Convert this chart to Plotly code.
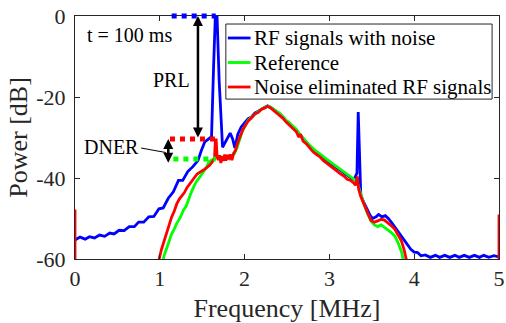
import plotly.graph_objects as go

# ---------------- data ----------------
blue_x = [0.00, 0.06, 0.12, 0.17, 0.23, 0.29, 0.35, 0.41, 0.46, 0.52, 0.58, 0.64, 0.70, 0.75, 0.81,
          0.87, 0.93, 0.99, 1.04, 1.10, 1.16, 1.22, 1.27, 1.33, 1.39, 1.45, 1.49, 1.53, 1.58, 1.61,
          1.635, 1.655, 1.675, 1.70, 1.74, 1.78, 1.83, 1.86, 1.885, 1.92, 1.96, 2.00, 2.04, 2.08, 2.12,
          2.16, 2.20, 2.24, 2.27, 2.30, 2.33, 2.37, 2.41, 2.45, 2.49, 2.53, 2.57, 2.61, 2.65, 2.69,
          2.73, 2.77, 2.81, 2.85, 2.89, 2.93, 2.97, 3.01, 3.05, 3.09, 3.13, 3.17, 3.21, 3.25, 3.29,
          3.31, 3.325, 3.34, 3.355, 3.37, 3.40, 3.44, 3.48, 3.51, 3.55, 3.58, 3.62, 3.66, 3.70, 3.74,
          3.78, 3.82, 3.86, 3.90, 3.93, 3.96, 4.00, 4.04, 4.08, 4.13, 4.19, 4.25, 4.30, 4.36, 4.42,
          4.48, 4.53, 4.59, 4.65, 4.71, 4.77, 4.82, 4.88, 4.94, 5.00]
blue_y = [-55.3, -54.6, -55.1, -54.5, -54.8, -54.1, -54.4, -53.6, -53.8, -52.9, -53.0, -52.0, -52.0, -50.9, -50.9,
          -49.6, -49.5, -47.6, -47.4, -45.0, -43.4, -40.6, -40.6, -38.4, -37.2, -35.7, -33.2, -31.1, -30.3, -29.8,
          -12.0, 0.0, 0.0, -16.0, -32.4, -31.0, -28.9, -30.4, -32.6, -29.2, -27.4, -26.4, -25.4, -24.9, -24.0,
          -23.5, -22.9, -22.5, -22.2, -22.5, -22.9, -23.6, -24.1, -24.9, -25.9, -26.5, -27.3, -28.1, -29.3, -30.3,
          -31.2, -32.2, -33.0, -33.7, -34.2, -35.1, -35.6, -36.3, -36.9, -37.5, -38.3, -38.8, -39.5, -39.9, -40.4,
          -39.3, -38.8, -23.7, -33.0, -44.2, -45.8, -47.4, -49.2, -50.0, -49.6, -49.0, -49.6, -49.3, -50.1, -51.2,
          -52.4, -53.4, -54.6, -56.0, -56.6, -57.6, -58.3, -58.4, -59.2, -59.0, -59.6, -59.1, -59.6, -59.1, -59.6,
          -59.1, -59.6, -59.1, -59.6, -59.1, -59.6, -59.1, -59.6, -59.2, -59.5]

green_x = [1.02, 1.05, 1.08, 1.11, 1.14, 1.17, 1.20, 1.24, 1.28, 1.31, 1.34, 1.37, 1.40, 1.43, 1.46,
           1.49, 1.52, 1.55, 1.58, 1.61, 1.64, 1.67, 1.70, 1.73, 1.76, 1.79, 1.82, 1.85, 1.88, 1.91,
           1.94, 1.97, 2.00, 2.04, 2.08, 2.12, 2.16, 2.20, 2.24, 2.27, 2.30, 2.33, 2.37, 2.41, 2.45,
           2.49, 2.53, 2.57, 2.61, 2.65, 2.69, 2.73, 2.77, 2.81, 2.85, 2.89, 2.93, 2.97, 3.01, 3.05,
           3.09, 3.13, 3.17, 3.21, 3.25, 3.29, 3.33, 3.37, 3.41, 3.45, 3.49, 3.53, 3.57, 3.61, 3.65,
           3.69, 3.73, 3.77, 3.81, 3.85, 3.88, 3.90]
green_y = [-62.0, -59.2, -57.4, -55.6, -53.8, -52.6, -51.2, -49.8, -47.9, -47.0, -45.2, -43.6, -42.2, -40.9, -40.1,
           -39.2, -38.6, -37.4, -36.0, -35.6, -35.1, -34.9, -35.2, -34.8, -35.4, -34.9, -35.3, -34.6, -34.0, -32.6,
           -30.4, -28.6, -27.4, -25.8, -25.0, -24.2, -23.6, -23.0, -22.6, -22.2, -22.4, -22.8, -23.5, -24.0, -24.8,
           -25.8, -26.4, -27.2, -28.0, -29.2, -30.2, -31.0, -32.0, -32.8, -33.5, -34.0, -34.9, -35.4, -36.0, -36.6,
           -37.2, -38.0, -38.5, -39.2, -39.6, -40.3, -41.2, -44.0, -46.6, -48.8, -50.6, -51.6, -52.0, -51.6, -52.2,
           -52.8, -53.5, -54.3, -56.0, -58.2, -60.6, -63.0]

red_x = [0.0, 0.003, 0.96, 0.99, 1.02, 1.05, 1.08, 1.11, 1.14, 1.17, 1.20, 1.23, 1.26, 1.29, 1.32,
         1.35, 1.38, 1.41, 1.44, 1.47, 1.50, 1.53, 1.56, 1.59, 1.62, 1.645, 1.655, 1.665, 1.675, 1.69,
         1.705, 1.72, 1.735, 1.75, 1.765, 1.78, 1.795, 1.81, 1.83, 1.85, 1.87, 1.89, 1.92, 1.95, 1.98,
         2.01, 2.04, 2.08, 2.12, 2.16, 2.20, 2.24, 2.27, 2.30, 2.33, 2.37, 2.41, 2.45, 2.49, 2.53,
         2.57, 2.61, 2.64, 2.66, 2.69, 2.73, 2.77, 2.81, 2.85, 2.89, 2.93, 2.97, 3.01, 3.05, 3.09,
         3.13, 3.17, 3.21, 3.25, 3.29, 3.31, 3.33, 3.345, 3.37, 3.41, 3.45, 3.49, 3.53, 3.57, 3.61,
         3.65, 3.69, 3.73, 3.77, 3.81, 3.85, 3.88, 3.91, 3.93, 3.95, 4.997, 5.0]
red_y = [-47.8, -160.0, -68.0, -60.2, -57.6, -55.6, -53.4, -51.4, -49.6, -48.2, -46.4, -45.2, -44.4, -43.6, -42.4,
         -41.6, -40.6, -40.0, -39.0, -38.6, -38.3, -37.8, -37.3, -36.8, -36.0, -35.2, -30.6, -30.6, -34.6, -35.6,
         -34.4, -36.3, -34.6, -35.8, -34.2, -35.7, -34.3, -35.4, -34.2, -35.6, -33.9, -33.3, -31.2, -29.4, -28.0,
         -27.0, -26.0, -25.2, -24.2, -23.8, -23.0, -22.7, -22.3, -22.6, -23.1, -23.8, -24.4, -25.2, -26.2, -26.9,
         -27.8, -28.6, -29.9, -29.2, -30.9, -31.6, -32.6, -33.6, -34.2, -34.8, -35.7, -36.3, -36.9, -37.6, -38.3,
         -39.0, -39.5, -40.3, -40.6, -41.3, -41.8, -39.6, -42.8, -44.6, -46.8, -48.6, -50.5, -50.9, -50.6, -50.2,
         -50.4, -51.0, -51.8, -52.6, -54.0, -55.6, -57.6, -60.4, -66.0, -160.0, -160.0, -49.0]

series_names = ["RF signals with noise", "Reference", "Noise eliminated RF signals"]
series_colors = ["#0000FF", "#00FF00", "#FF0000"]

x_tick_vals = [0, 1, 2, 3, 4, 5]
x_tick_text = ["0", "1", "2", "3", "4", "5"]
y_tick_vals = [0, -20, -40, -60]
y_tick_text = ["0", "-20", "-40", "-60"]

# annotation levels (dB) and frequencies (MHz)
peak_level = 0.0
red_level = -30.4
green_level = -35.3
blue_dot_span = [1.14, 1.66]
red_dot_span = [1.12, 1.65]
green_dot_span = [1.16, 1.66]
prl_x = 1.45
dner_x = 1.10
dner_bottom = -36.6

FONT = "Liberation Serif, Times New Roman, serif"
AX = "#262626"

fig = go.Figure()
for xs, ys, name, col in zip([blue_x, green_x, red_x], [blue_y, green_y, red_y], series_names, series_colors):
    fig.add_trace(go.Scatter(x=xs, y=ys, mode="lines", name=name,
                             line=dict(color=col, width=2.8), showlegend=False))

shapes = []
dot = dict(width=5, dash="5px,5px")
shapes.append(dict(type="line", xref="x", yref="paper", x0=blue_dot_span[0], x1=blue_dot_span[1],
                   y0=1, y1=1, line=dict(color="#0000FF", **dot), layer="above"))
shapes.append(dict(type="line", xref="x", yref="y", x0=red_dot_span[0], x1=red_dot_span[1],
                   y0=red_level, y1=red_level, line=dict(color="#FF0000", **dot), layer="above"))
shapes.append(dict(type="line", xref="x", yref="y", x0=green_dot_span[0], x1=green_dot_span[1],
                   y0=green_level, y1=green_level, line=dict(color="#00FF00", **dot), layer="above"))
# DNER pointer line
shapes.append(dict(type="line", xref="x", yref="y", x0=0.78, y0=-32.6, x1=1.07, y1=-33.7,
                   line=dict(color="black", width=1), layer="above"))

# manual legend (paper coords)
leg_x0, leg_x1, leg_y0, leg_y1 = 0.3558, 0.9837, 0.658, 0.967
shapes.append(dict(type="rect", xref="paper", yref="paper", x0=leg_x0, x1=leg_x1, y0=leg_y0, y1=leg_y1,
                   line=dict(color=AX, width=1), fillcolor="white", layer="above"))
row_y = [0.9095, 0.8086, 0.7078]
annotations = []
for name, col, ry in zip(series_names, series_colors, row_y):
    shapes.append(dict(type="line", xref="paper", yref="paper", x0=0.3605, x1=0.4140, y0=ry, y1=ry,
                       line=dict(color=col, width=2.8), layer="above"))
    annotations.append(dict(xref="paper", yref="paper", x=0.4186, y=ry, text=name, showarrow=False,
                            xanchor="left", yanchor="middle", font=dict(family=FONT, size=21, color="black")))

# arrows
arrow_common = dict(text="", showarrow=True, arrowhead=2, startarrowhead=2, arrowside="end+start",
                    arrowsize=0.8, startarrowsize=0.8, arrowwidth=2.5, arrowcolor="black",
                    axref="x", ayref="y", xref="x", yref="y", standoff=0, startstandoff=0)
annotations.append(dict(x=prl_x, y=peak_level, ax=prl_x, ay=red_level, **arrow_common))
annotations.append(dict(x=dner_x, y=red_level, ax=dner_x, ay=dner_bottom, **arrow_common))

# texts
annotations.append(dict(x=0.116, y=-4.7, xref="x", yref="y", text="t = 100 ms", showarrow=False,
                        xanchor="left", yanchor="middle", font=dict(family=FONT, size=20, color="black")))
annotations.append(dict(x=1.14, y=-15.7, xref="x", yref="y", text="PRL", showarrow=False,
                        xanchor="center", yanchor="middle", font=dict(family=FONT, size=20, color="black")))
annotations.append(dict(x=0.43, y=-32.3, xref="x", yref="y", text="DNER", showarrow=False,
                        xanchor="center", yanchor="middle", font=dict(family=FONT, size=20, color="black")))

axis_common = dict(showgrid=False, zeroline=False, showline=True, linecolor=AX, linewidth=1,
                   mirror="ticks", ticks="inside", ticklen=5, tickwidth=1, tickcolor=AX,
                   ticklabeloverflow="allow",
                   tickfont=dict(family=FONT, size=22, color=AX))

fig.update_layout(
    width=506, height=323,
    margin=dict(l=75, r=1, t=16, b=64),
    paper_bgcolor="white", plot_bgcolor="white",
    font=dict(family=FONT, color=AX),
    shapes=shapes, annotations=annotations,
    xaxis=dict(range=[0, 5], tickvals=x_tick_vals, ticktext=x_tick_text, ticklabelstandoff=0,
               title=dict(text="Frequency [MHz]", font=dict(family=FONT, size=26, color=AX), standoff=9),
               **axis_common),
    yaxis=dict(range=[-60, 0], tickvals=y_tick_vals, ticktext=y_tick_text, ticklabelstandoff=4,
               title=dict(text="Power [dB]", font=dict(family=FONT, size=26, color=AX), standoff=1),
               **axis_common),
)

fig.write_html("out.html")
